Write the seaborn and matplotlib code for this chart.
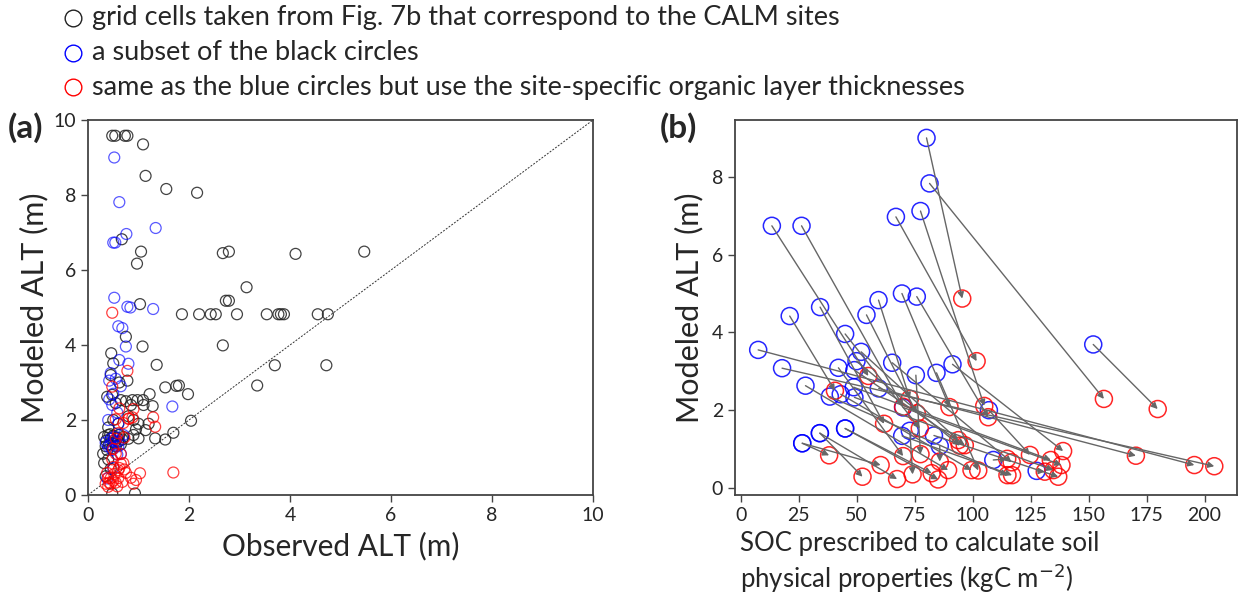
import numpy as np
import pandas as pd
import matplotlib
matplotlib.use("Agg")
import matplotlib.pyplot as plt
from matplotlib.lines import Line2D
import seaborn as sns

# ---------------- Panel (a) data: observed vs modeled ALT (m) ----------------
obs_black = [0.48, 0.54, 0.73, 0.78, 1.09, 1.14, 1.55, 2.16,
             0.67, 1.05, 0.97, 2.67, 2.79, 4.11, 5.47, 3.14, 1.03, 2.73, 2.79,
             1.86, 2.20, 2.43, 2.53, 2.95, 3.54, 3.77, 3.82, 3.88, 4.55, 4.75,
             2.67, 3.70, 4.72, 3.35, 1.80, 1.98, 2.04,
             0.46, 1.08, 0.75, 1.36, 0.50, 0.62, 0.78, 0.45,
             1.53, 1.75, 1.22, 1.28, 1.09, 0.98, 0.88, 0.75, 0.65, 0.48, 0.38, 0.55, 0.85, 1.10,
             1.69, 1.53, 1.33, 1.14, 1.00, 0.90, 0.80, 0.70, 1.20, 1.00, 0.90, 0.80, 0.95,
             0.32, 0.36, 0.40, 0.42, 0.45, 0.48, 0.50, 0.52, 0.55, 0.58, 0.60, 0.62, 0.65, 0.68, 0.35, 0.38, 0.44,
             0.30, 0.32, 0.40, 0.35, 0.45, 0.48, 0.93, 0.50, 0.60, 0.40]
mod_black = [9.58, 9.58, 9.58, 9.58, 9.35, 8.51, 8.16, 8.06,
             6.82, 6.49, 6.17, 6.45, 6.49, 6.43, 6.49, 5.54, 5.09, 5.18, 5.18,
             4.82, 4.82, 4.82, 4.82, 4.82, 4.82, 4.82, 4.82, 4.82, 4.82, 4.82,
             3.99, 3.46, 3.46, 2.92, 2.92, 2.69, 1.98,
             3.78, 3.96, 4.22, 3.47, 3.51, 3.00, 3.05, 3.20,
             2.87, 2.91, 2.69, 2.37, 2.53, 2.53, 2.53, 2.50, 2.53, 2.67, 2.62, 2.45, 2.40, 2.40,
             1.66, 1.48, 1.51, 1.73, 1.51, 1.60, 1.50, 1.55, 1.90, 1.90, 2.00, 2.10, 1.75,
             1.55, 1.45, 1.60, 1.35, 1.50, 1.25, 1.58, 1.40, 1.30, 1.52, 1.42, 1.60, 1.35, 1.48, 1.30, 1.20, 1.62,
             1.10, 0.85, 0.95, 0.50, 0.70, 0.04, 0.04, 2.00, 1.90, 1.80]

obs_blue = [0.52, 0.62, 1.34, 0.76, 0.50, 0.54, 0.52, 0.78, 0.84, 1.29, 0.68, 0.60, 0.75, 0.62,
            0.80, 1.67, 0.45, 0.42, 0.55, 0.65, 0.50, 0.42, 0.48, 0.58, 0.40, 0.60, 0.70, 0.50,
            0.45, 0.55, 0.60, 0.40, 0.65, 0.50, 0.38, 0.45, 0.52, 0.48, 0.35, 0.62, 0.58]
mod_blue = [9.00, 7.81, 7.12, 6.96, 6.73, 6.73, 5.26, 5.02, 5.00, 4.96, 4.45, 4.50, 3.96, 3.60,
            3.50, 2.36, 3.25, 3.05, 3.10, 2.90, 2.70, 2.55, 2.40, 2.20, 2.00, 1.90, 1.60, 1.45,
            1.35, 1.40, 1.30, 1.30, 1.10, 0.72, 0.44, 1.50, 1.55, 1.20, 1.40, 1.45, 1.08]

obs_red = [0.48, 0.78, 0.48, 0.62, 0.55, 0.81, 0.88, 1.33, 1.29, 0.90, 0.70, 0.60, 0.72, 0.50,
           0.65, 0.55, 1.03, 1.69, 0.40, 0.45, 0.50, 0.60, 0.42, 0.55, 0.70, 0.48, 0.62, 0.75,
           0.38, 0.52, 0.65, 0.80, 0.45, 0.58, 0.68, 0.50, 0.40, 0.72, 0.85, 0.35, 0.60, 0.55,
           0.90, 0.95]
mod_red = [4.86, 3.31, 2.89, 2.31, 2.02, 2.04, 2.07, 1.82, 2.07, 2.29, 1.92, 1.65, 1.53, 1.23,
           1.09, 1.10, 0.58, 0.60, 0.46, 0.45, 0.75, 0.66, 0.33, 0.33, 0.85, 0.95, 0.72, 0.59,
           0.59, 0.56, 0.83, 2.03, 0.29, 0.23, 0.35, 0.38, 0.22, 0.68, 0.46, 0.30, 0.45, 1.50,
           0.30, 0.40]

# ---------------- Panel (b) data: SOC (kgC m-2) vs modeled ALT (m) ----------------
soc_blue = [80.1, 81.4, 66.9, 77.5, 13.4, 26.2, 152.0, 7.5, 17.8, 21.1, 34.2, 59.4, 69.5, 75.9,
            54.2, 45.0, 51.9, 49.9, 42.1, 49.0, 65.3, 75.5, 84.4, 91.3, 27.9, 48.7, 59.5, 43.1,
            38.4, 49.0, 70.0, 45.0, 34.1, 26.5, 69.6, 72.9, 83.3, 85.8, 107.0, 108.9, 127.6,
            26.5, 34.1, 45.0]
alt_blue = [9.00, 7.83, 6.97, 7.12, 6.74, 6.74, 3.69, 3.55, 3.08, 4.42, 4.65, 4.83, 5.00, 4.92,
            4.45, 3.96, 3.50, 3.26, 3.09, 3.03, 3.22, 2.90, 2.96, 3.18, 2.63, 2.59, 2.56, 2.41,
            2.35, 2.33, 2.07, 1.53, 1.41, 1.15, 1.34, 1.47, 1.35, 1.08, 2.00, 0.72, 0.44,
            1.15, 1.41, 1.53]
soc_red = [95.5, 156.6, 101.7, 105.0, 55.0, 70.0, 179.8, 195.6, 204.2, 40.6, 61.8, 72.9, 90.0, 106.7,
           75.9, 77.2, 93.8, 94.5, 70.0, 96.6, 116.8, 77.5, 102.4, 139.0, 89.4, 133.7, 170.4, 99.5,
           115.0, 134.8, 138.3, 82.3, 52.5, 38.1, 117.0, 74.1, 136.9, 85.8, 124.7, 114.9, 131.1,
           60.3, 67.4, 85.1]
alt_red = [4.87, 2.29, 3.26, 2.11, 2.88, 2.09, 2.03, 0.59, 0.56, 2.50, 1.65, 2.29, 2.08, 1.82,
           1.92, 1.53, 1.23, 1.09, 0.82, 1.10, 0.66, 0.87, 0.45, 0.95, 0.46, 0.72, 0.83, 0.46,
           0.33, 0.46, 0.59, 0.38, 0.29, 0.84, 0.33, 0.35, 0.29, 0.68, 0.85, 0.75, 0.42,
           0.59, 0.23, 0.22]

legend_labels = ["grid cells taken from Fig. 7b that correspond to the CALM sites",
                 "a subset of the black circles",
                 "same as the blue circles but use the site-specific organic layer thicknesses"]

BLACK = "#222222"
BLUE = "#0000ff"
RED = "#ff0000"

sns.set_style("ticks")
plt.rcParams["font.family"] = ["DejaVu Sans"]
LABEL_FONT = ["Lato", "DejaVu Sans"]

fig = plt.figure(figsize=(12.4, 5.95), dpi=100)
axA = fig.add_axes([88 / 1240, 1 - 495 / 595, 505 / 1240, 375 / 595])
axB = fig.add_axes([735 / 1240, 1 - 495 / 595, 502 / 1240, 375 / 595])

# ---- panel a ----
axA.plot([0, 10], [0, 10], color="#333333", lw=0.7, ls=(0, (2, 1.5)), zorder=1)
for xs, ys, c, a in [(obs_black, mod_black, BLACK, 0.85),
                     (obs_blue, mod_blue, BLUE, 0.65),
                     (obs_red, mod_red, RED, 0.75)]:
    df = pd.DataFrame({"x": xs, "y": ys})
    sns.scatterplot(data=df, x="x", y="y", ax=axA, s=62, marker="o",
                    color=c, facecolor="none", edgecolor=c, linewidth=0.9, alpha=a, zorder=2)
axA.set_xlim(0, 10)
axA.set_ylim(0, 10)
axA.set_xticks(range(0, 11, 2))
axA.set_yticks(range(0, 11, 2))
axA.set_xlabel("Observed ALT (m)", fontsize=21.5, family=LABEL_FONT, labelpad=6)
axA.set_ylabel("Modeled ALT (m)", fontsize=22, family=LABEL_FONT, labelpad=4)

# ---- panel b ----
dfb = pd.DataFrame({"x": soc_blue, "y": alt_blue})
dfr = pd.DataFrame({"x": soc_red, "y": alt_red})
sns.scatterplot(data=dfb, x="x", y="y", ax=axB, s=150, marker="o", color=BLUE,
                facecolor="none", edgecolor=BLUE, linewidth=1.1, alpha=0.85, zorder=2)
sns.scatterplot(data=dfr, x="x", y="y", ax=axB, s=150, marker="o", color=RED,
                facecolor="none", edgecolor=RED, linewidth=1.1, alpha=0.85, zorder=2)
for x0, y0, x1, y1 in zip(soc_blue, alt_blue, soc_red, alt_red):
    axB.annotate("", xy=(x1, y1), xytext=(x0, y0),
                 arrowprops=dict(arrowstyle="-|>", color="#666666", lw=1.0,
                                 shrinkA=0, shrinkB=0, mutation_scale=9), zorder=3)
axB.set_xlim(-2.5, 214)
axB.set_ylim(-0.18, 9.46)
axB.set_xticks(range(0, 201, 25))
axB.set_yticks(range(0, 9, 2))
axB.set_xlabel("")
axB.set_ylabel("Modeled ALT (m)", fontsize=22, family=LABEL_FONT, labelpad=6)
fig.text(740 / 1240, 1 - 543 / 595, "SOC prescribed to calculate soil",
         fontsize=18.5, family=LABEL_FONT, ha="left", va="center")
fig.text(740 / 1240, 1 - 578 / 595, "physical properties (kgC m$^{-2}$)",
         fontsize=18.5, family=LABEL_FONT, ha="left", va="center")

for ax in (axA, axB):
    for sp in ax.spines.values():
        sp.set_color("#444444")
        sp.set_linewidth(1.3)
    ax.tick_params(labelsize=14, length=5, width=1, color="#444444")
    for lab in ax.get_xticklabels() + ax.get_yticklabels():
        lab.set_family(LABEL_FONT)

fig.text(8 / 1240, 1 - 128 / 595, "(a)", fontsize=24, fontweight="bold",
         family=LABEL_FONT, ha="left", va="center")
fig.text(660 / 1240, 1 - 128 / 595, "(b)", fontsize=24, fontweight="bold",
         family=LABEL_FONT, ha="left", va="center")

# ---- legend at top ----
for i, (lab, c) in enumerate(zip(legend_labels, [BLACK, BLUE, RED])):
    yc = 1 - (18 + 34.5 * i) / 595
    fig.add_artist(Line2D([73 / 1240], [yc], marker="o", markersize=12, mfc="none",
                          mec=c, mew=1.0, transform=fig.transFigure))
    fig.text(92 / 1240, yc, lab, fontsize=19.5, family=LABEL_FONT, ha="left", va="center")

fig.savefig("out.png", dpi=100)
